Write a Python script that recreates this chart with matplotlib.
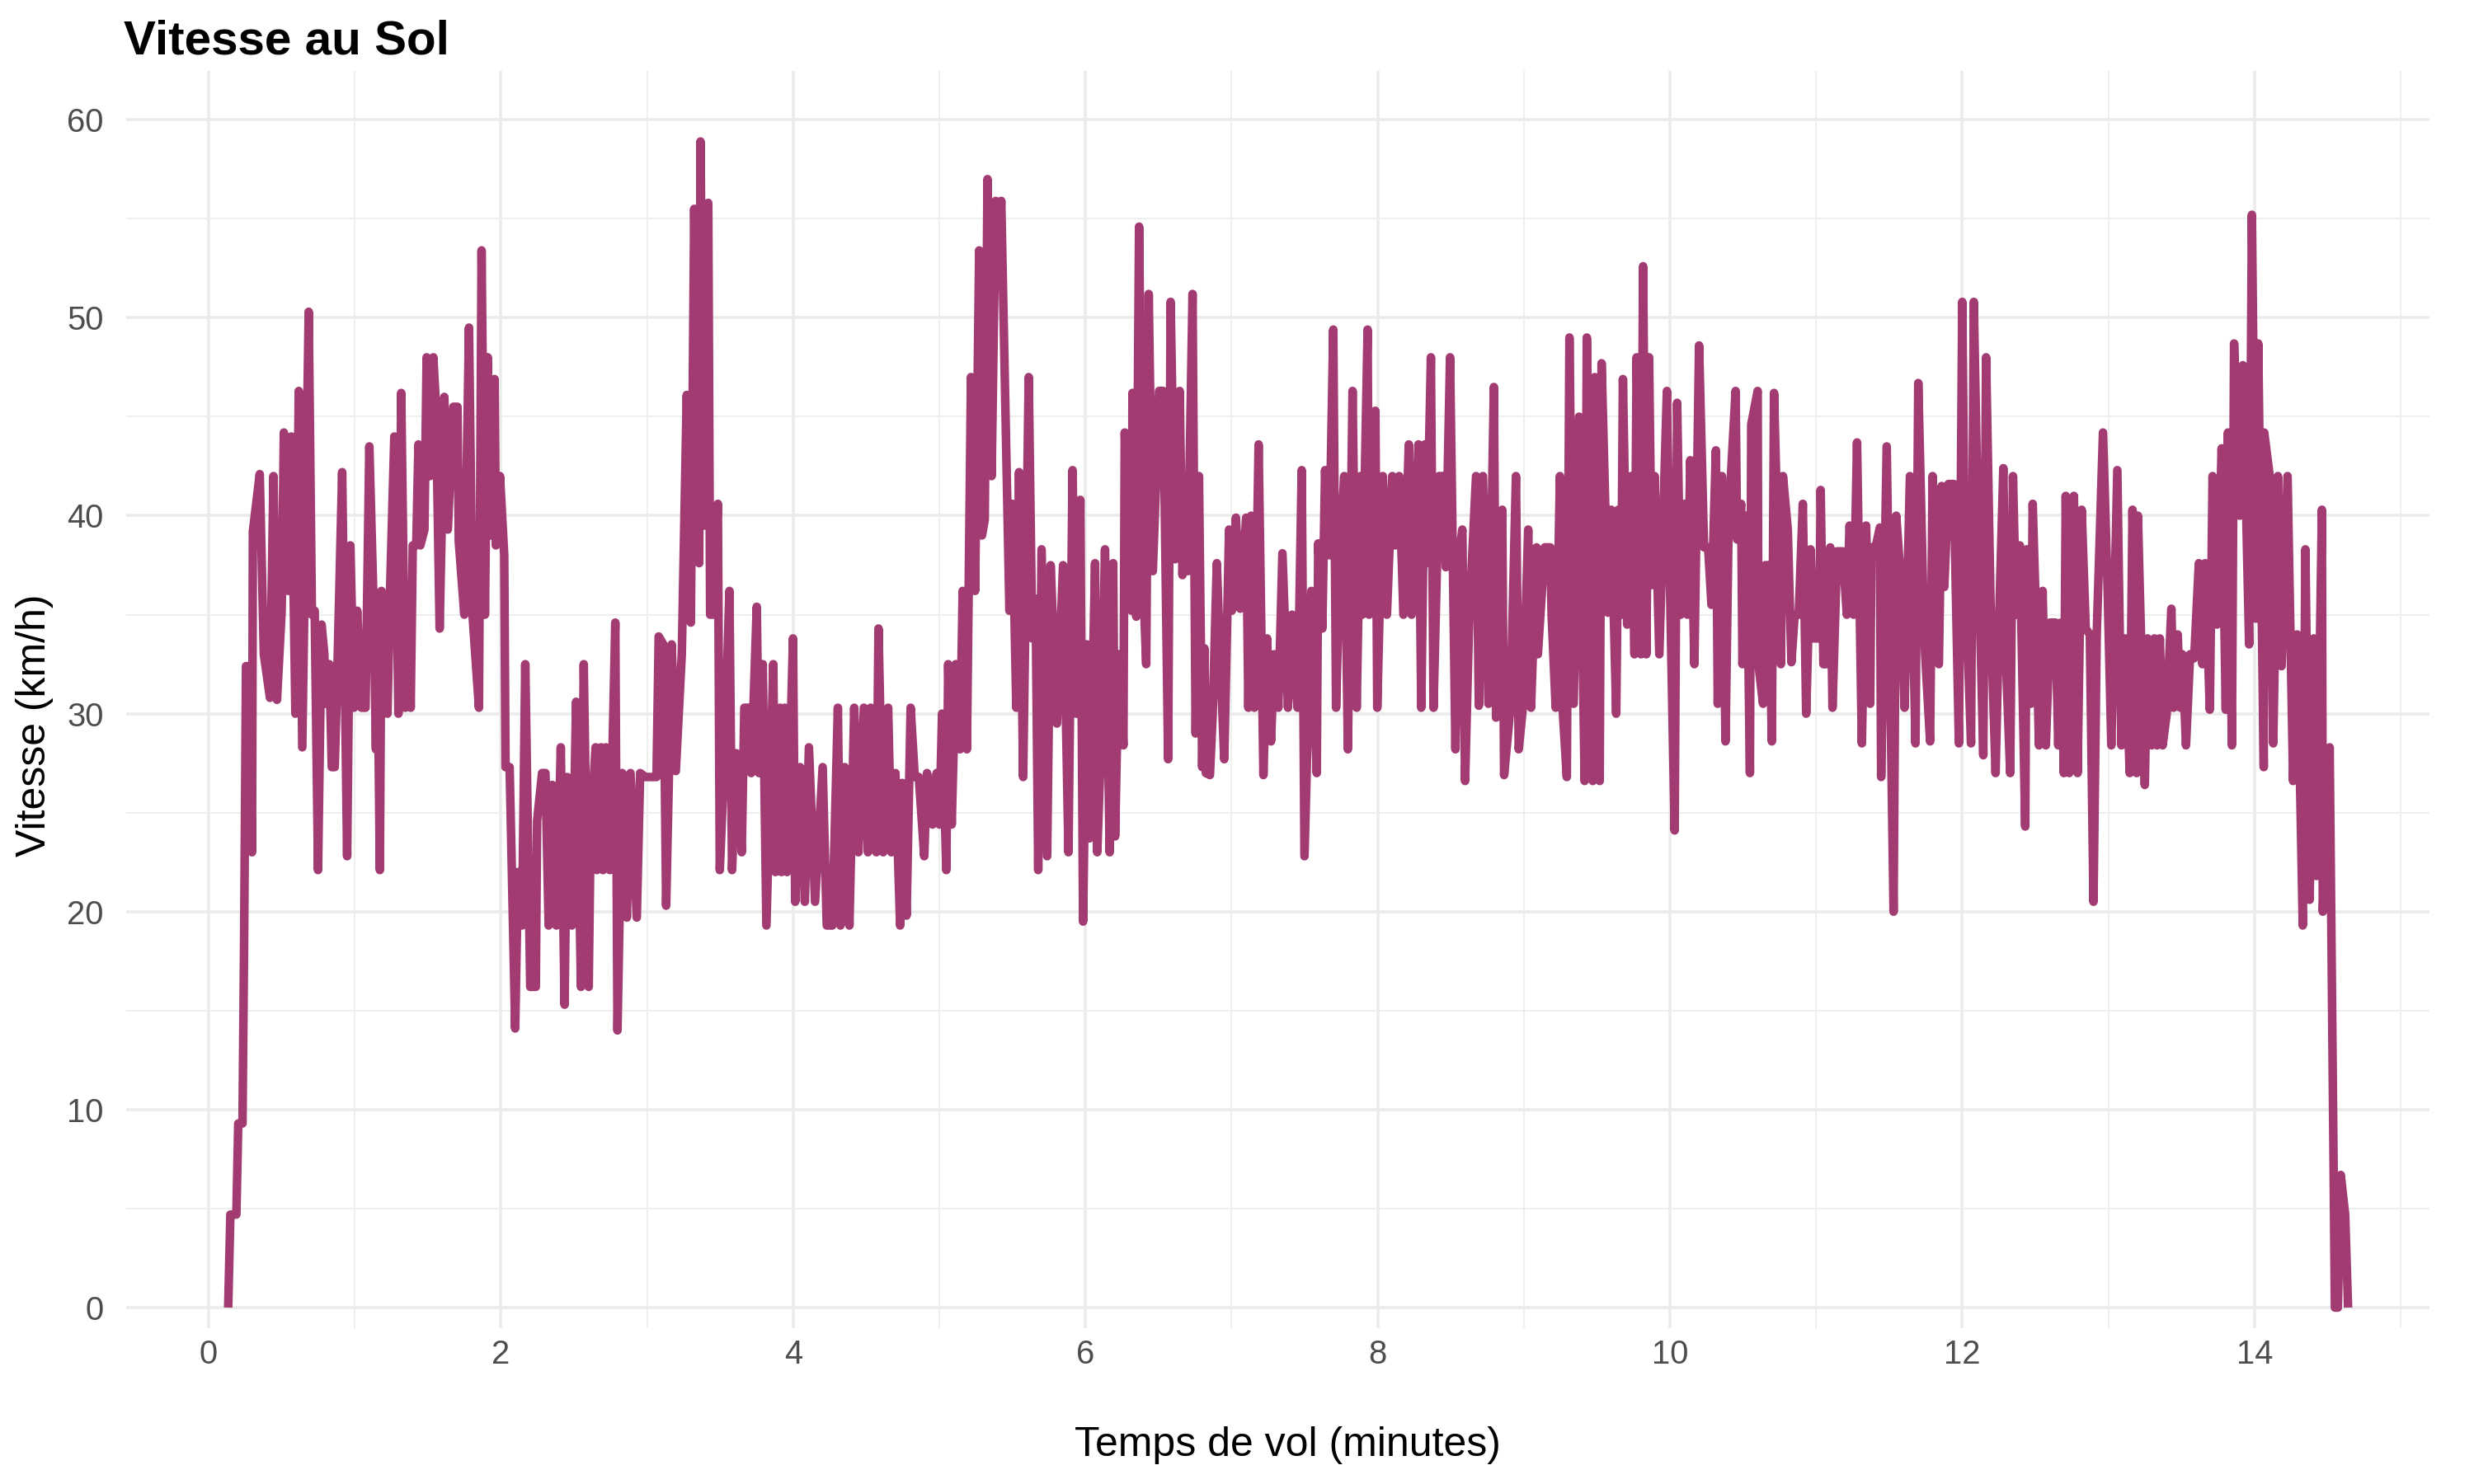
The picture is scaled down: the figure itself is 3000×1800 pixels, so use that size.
#!/usr/bin/env python3

import numpy as np
import matplotlib.pyplot as plt

plt.rcParams['font.family'] = ['Liberation Sans', 'DejaVu Sans']

# temps de vol (minutes) et vitesse au sol (km/h)
temps = [
    0.134, 0.149, 0.190, 0.203, 0.232, 0.243, 0.256, 0.275, 0.297, 0.303,
    0.350, 0.378, 0.420, 0.444, 0.468, 0.500, 0.515, 0.544, 0.566, 0.594,
    0.617, 0.641, 0.685, 0.707, 0.726, 0.749, 0.773, 0.792, 0.797, 0.826,
    0.843, 0.863, 0.876, 0.914, 0.948, 0.970, 0.995, 1.017, 1.046, 1.074,
    1.100, 1.130, 1.145, 1.153, 1.172, 1.183,
    1.224, 1.242, 1.271, 1.299, 1.318, 1.346, 1.365, 1.383, 1.397, 1.421,
    1.436, 1.449, 1.477, 1.492, 1.515, 1.538, 1.556, 1.581, 1.613, 1.637,
    1.675, 1.703, 1.712, 1.750, 1.782, 1.806, 1.850, 1.868, 1.891, 1.910,
    1.929, 1.957, 1.966, 1.994, 2.023, 2.032, 2.060, 2.098, 2.117, 2.145,
    2.167, 2.201, 2.239, 2.248, 2.282, 2.305, 2.327, 2.352, 2.380,
    2.410, 2.436, 2.454, 2.486, 2.515, 2.548, 2.567, 2.601, 2.614, 2.648,
    2.657, 2.686, 2.699, 2.718, 2.746, 2.783, 2.798, 2.830, 2.862, 2.887,
    2.930, 2.953, 2.990, 3.065, 3.080, 3.112, 3.131, 3.169, 3.197, 3.238,
    3.272, 3.300, 3.323, 3.357, 3.366, 3.389, 3.419, 3.432, 3.451, 3.485,
    3.498, 3.526, 3.564, 3.582, 3.611,
    3.648, 3.666, 3.695, 3.713, 3.751, 3.766, 3.792, 3.817, 3.864, 3.879,
    3.911, 3.920, 3.943, 3.958, 3.999, 4.014, 4.048, 4.080, 4.108, 4.150,
    4.202, 4.230, 4.268, 4.306, 4.324, 4.353, 4.385, 4.418, 4.447, 4.484,
    4.512, 4.531, 4.569, 4.584, 4.616, 4.650, 4.672, 4.700, 4.732, 4.747,
    4.776, 4.804, 4.832,
    4.860, 4.897, 4.916, 4.954, 4.982, 5.001, 5.019, 5.048, 5.061, 5.085,
    5.113, 5.142, 5.160, 5.189, 5.217, 5.245, 5.273, 5.292, 5.311, 5.330,
    5.358, 5.386, 5.395, 5.424, 5.480, 5.499, 5.527, 5.546, 5.574, 5.612,
    5.636, 5.659, 5.677, 5.700, 5.738, 5.762, 5.805, 5.847, 5.884, 5.912,
    5.937, 5.965, 5.984,
    6.010, 6.028, 6.066, 6.081, 6.109, 6.134, 6.166, 6.190, 6.203, 6.228,
    6.260, 6.269, 6.316, 6.322, 6.348, 6.367, 6.391, 6.416, 6.433, 6.461,
    6.485, 6.504, 6.532, 6.566, 6.583, 6.613, 6.645, 6.664, 6.683, 6.701,
    6.733, 6.754, 6.777, 6.799, 6.814, 6.824, 6.852, 6.871, 6.899, 6.921,
    6.950, 6.965, 6.983, 7.002, 7.030, 7.059, 7.100, 7.115, 7.134, 7.156,
    7.185, 7.218, 7.243,
    7.270, 7.292, 7.320, 7.348, 7.386, 7.414, 7.452, 7.480, 7.499, 7.546,
    7.583, 7.593, 7.621, 7.640, 7.668, 7.696, 7.715, 7.743, 7.771, 7.796,
    7.828, 7.856, 7.884, 7.894, 7.931, 7.941, 7.984, 7.997, 8.035, 8.063,
    8.100, 8.119, 8.147, 8.176, 8.213, 8.232, 8.279, 8.298, 8.322, 8.335,
    8.364, 8.382, 8.420,
    8.451, 8.466, 8.495, 8.532, 8.551, 8.579, 8.598, 8.626, 8.673, 8.692,
    8.720, 8.758, 8.795, 8.810, 8.852, 8.865, 8.908, 8.946, 8.965, 8.993,
    9.030, 9.049, 9.087, 9.096, 9.143, 9.181, 9.190, 9.218, 9.247, 9.265,
    9.294, 9.312, 9.341, 9.378, 9.416, 9.431, 9.472, 9.485, 9.519, 9.532,
    9.576, 9.598, 9.632, 9.647, 9.666,
    9.678, 9.707, 9.735, 9.757, 9.772, 9.801, 9.816, 9.838, 9.857, 9.876,
    9.895, 9.927, 9.979, 9.998, 10.032, 10.049, 10.073, 10.101, 10.120, 10.139,
    10.167, 10.199, 10.233, 10.261, 10.284, 10.314, 10.327, 10.355, 10.380, 10.402,
    10.449, 10.459, 10.487, 10.496, 10.524, 10.547, 10.556, 10.600, 10.605, 10.637,
    10.652, 10.675, 10.697, 10.712, 10.759, 10.773, 10.806, 10.831,
    10.853, 10.881, 10.909, 10.932, 10.962, 10.984, 11.022, 11.031, 11.050, 11.069,
    11.097, 11.112, 11.144, 11.182, 11.210, 11.229, 11.257, 11.280, 11.313, 11.342,
    11.370, 11.379, 11.407, 11.436, 11.445, 11.483, 11.530, 11.548, 11.577, 11.605,
    11.642, 11.680, 11.699, 11.736, 11.746, 11.780, 11.797, 11.840, 11.859, 11.877,
    11.906, 11.943, 11.953, 11.977, 12.000, 12.018, 12.060, 12.079,
    12.112, 12.144, 12.163, 12.196, 12.228, 12.253, 12.281, 12.300, 12.328, 12.347,
    12.369, 12.394, 12.431, 12.441, 12.469, 12.482, 12.507, 12.525, 12.550, 12.572,
    12.601, 12.638, 12.657, 12.676, 12.695, 12.708, 12.732, 12.764, 12.789, 12.817,
    12.845, 12.873, 12.898, 12.920, 12.963, 12.995, 13.020, 13.061, 13.089, 13.114,
    13.146, 13.165, 13.193, 13.202, 13.249, 13.268, 13.296, 13.315,
    13.333, 13.352, 13.371, 13.399, 13.431, 13.446, 13.474, 13.493, 13.506, 13.531,
    13.559, 13.587, 13.619, 13.643, 13.662, 13.694, 13.713, 13.743, 13.775, 13.803,
    13.818, 13.845, 13.860, 13.897, 13.920, 13.963, 13.982, 14.010, 14.025, 14.063,
    14.066, 14.104, 14.128, 14.160, 14.185, 14.226, 14.264, 14.292, 14.330, 14.348,
    14.377, 14.405, 14.424, 14.461, 14.467, 14.514, 14.550, 14.570, 14.590, 14.620,
    14.640 ]

vitesse = [
    0.0, 4.7, 4.7, 9.3, 9.3, 18.5, 32.4, 32.4, 23.0, 39.2,
    42.1, 33.0, 30.8, 42.0, 30.7, 35.2, 44.2, 36.2, 44.0, 30.0,
    46.3, 28.3, 50.3, 35.0, 35.2, 22.1, 34.5, 33.0, 30.5, 32.5,
    27.3, 27.3, 30.6, 42.2, 22.8, 38.5, 30.3, 35.2, 30.3, 30.3,
    43.5, 35.2, 28.2, 35.2, 22.1, 36.2,
    30.0, 36.3, 44.0, 30.0, 46.2, 30.3, 35.5, 30.3, 38.5, 38.5,
    43.6, 38.5, 39.3, 48.0, 42.0, 48.0, 45.5, 34.3, 46.0, 39.3,
    45.5, 45.5, 38.7, 35.0, 49.5, 35.0, 30.3, 53.4, 35.0, 48.0,
    39.0, 46.9, 38.5, 42.0, 38.0, 27.3, 27.3, 14.1, 22.0, 19.3,
    32.5, 16.2, 16.2, 24.6, 27.0, 27.0, 19.3, 26.4, 19.3,
    28.3, 15.3, 26.8, 19.3, 30.6, 16.2, 32.5, 16.2, 24.0, 28.3,
    22.1, 28.3, 22.1, 28.3, 22.1, 34.6, 14.0, 27.0, 19.7, 27.0,
    19.7, 27.0, 26.8, 26.8, 33.9, 33.5, 20.3, 33.5, 27.1, 33.0,
    46.1, 34.6, 55.5, 37.6, 58.9, 39.5, 55.8, 35.0, 35.0, 40.6,
    22.1, 27.0, 36.2, 22.1, 28.0,
    23.0, 30.3, 30.3, 27.0, 35.4, 27.0, 32.5, 19.3, 32.5, 22.0,
    30.3, 22.0, 30.3, 22.0, 33.8, 20.5, 27.3, 20.5, 28.3, 20.5,
    27.3, 19.3, 19.3, 30.3, 19.3, 27.3, 19.3, 30.3, 23.0, 30.3,
    23.0, 30.3, 23.0, 34.3, 23.0, 30.3, 23.0, 27.0, 19.3, 26.5,
    19.8, 30.3, 26.8,
    26.8, 22.8, 27.0, 24.4, 27.0, 24.4, 30.0, 22.1, 32.5, 24.4,
    32.5, 28.2, 36.2, 28.2, 47.0, 36.2, 53.4, 39.0, 39.8, 57.0,
    42.0, 55.9, 51.6, 55.9, 35.2, 40.6, 30.3, 42.2, 26.8, 47.0,
    33.8, 35.8, 22.1, 38.3, 22.8, 37.5, 29.5, 37.5, 23.0, 42.3,
    30.0, 40.8, 19.5,
    33.5, 23.7, 37.6, 23.0, 29.0, 38.3, 23.0, 37.6, 23.8, 33.0,
    28.4, 44.2, 35.2, 46.2, 34.9, 54.6, 37.5, 32.5, 51.2, 37.2,
    42.0, 46.3, 46.3, 27.7, 50.8, 37.8, 46.3, 37.0, 41.0, 37.2,
    51.2, 29.0, 42.0, 27.3, 33.3, 27.0, 26.9, 30.0, 37.6, 33.0,
    27.7, 33.0, 39.3, 35.2, 39.9, 35.3, 39.9, 30.3, 40.0, 30.3,
    43.6, 26.9, 33.8,
    28.6, 33.0, 30.3, 38.1, 30.3, 35.0, 30.3, 42.3, 22.8, 36.2,
    27.0, 38.6, 34.3, 42.3, 38.0, 49.4, 30.3, 38.3, 42.0, 28.2,
    46.3, 30.3, 42.0, 35.0, 49.4, 35.0, 45.3, 30.3, 42.0, 35.0,
    42.0, 38.5, 42.0, 35.0, 43.6, 35.0, 43.6, 30.3, 43.6, 37.6,
    48.0, 30.3, 42.0,
    42.0, 37.4, 48.0, 28.2, 37.6, 39.3, 26.6, 34.8, 42.0, 30.4,
    42.0, 30.5, 46.5, 29.8, 40.3, 26.9, 30.3, 42.0, 28.2, 30.3,
    39.3, 30.3, 38.4, 33.0, 38.4, 38.4, 35.0, 30.3, 42.0, 30.3,
    26.8, 49.0, 30.5, 45.0, 26.6, 49.0, 26.6, 47.0, 26.6, 47.7,
    35.1, 40.3, 30.0, 40.3, 35.0,
    46.9, 34.5, 42.0, 33.0, 48.0, 33.0, 52.6, 33.0, 48.0, 36.5,
    42.0, 33.0, 46.3, 37.2, 24.1, 45.7, 35.0, 40.6, 35.0, 42.8,
    32.5, 48.6, 38.4, 38.4, 35.5, 43.3, 30.5, 42.0, 28.6, 40.0,
    46.3, 38.8, 40.6, 32.5, 40.0, 27.0, 44.6, 46.3, 32.5, 30.5,
    37.5, 37.5, 28.6, 46.2, 32.5, 42.0, 39.3, 32.6,
    35.0, 35.0, 40.6, 30.0, 38.3, 33.8, 33.8, 41.3, 32.5, 32.5,
    38.4, 30.3, 38.2, 38.2, 35.0, 39.5, 35.0, 43.7, 28.5, 39.5,
    30.5, 38.4, 38.4, 39.4, 26.8, 43.5, 20.0, 40.0, 37.0, 30.3,
    42.0, 28.5, 46.7, 35.0, 33.0, 28.6, 42.0, 32.5, 41.5, 36.4,
    41.6, 41.6, 37.3, 28.5, 50.8, 37.5, 28.5, 50.8,
    37.6, 27.9, 48.0, 34.6, 27.0, 35.0, 42.4, 32.5, 27.0, 42.0,
    35.0, 38.5, 24.3, 38.3, 30.5, 40.6, 34.3, 28.4, 36.2, 28.4,
    34.6, 34.6, 28.4, 34.6, 27.0, 41.0, 27.0, 41.0, 27.0, 40.3,
    34.3, 34.0, 20.5, 34.0, 44.2, 36.2, 28.4, 42.3, 28.4, 33.8,
    27.0, 40.3, 27.0, 40.0, 26.4, 33.8, 28.4, 33.8,
    28.4, 33.8, 28.4, 30.0, 35.3, 30.3, 34.0, 30.3, 33.0, 28.4,
    33.0, 32.8, 37.6, 32.5, 37.6, 30.2, 42.0, 34.5, 43.4, 30.2,
    44.2, 28.4, 48.7, 40.0, 47.6, 33.5, 55.2, 34.8, 48.7, 27.3,
    44.2, 42.0, 28.5, 42.0, 32.4, 42.0, 26.6, 34.0, 19.3, 38.3,
    20.6, 33.8, 21.8, 40.3, 20.0, 28.3, 0.0, 0.0, 6.7, 4.7,
    0.0 ]

xticks = [0, 2, 4, 6, 8, 10, 12, 14]
yticks = [0, 10, 20, 30, 40, 50, 60]

couleur = '#A23B72'

fig = plt.figure(figsize=(10, 6), dpi=300)
ax = fig.add_axes([0.051, 0.105, 0.931, 0.847])

ax.plot(temps, vitesse, color=couleur, lw=2.5, solid_joinstyle='round',
        solid_capstyle='butt', zorder=3)

ax.set_xlim(-0.564, 15.197)
ax.set_ylim(-1.04, 62.45)

ax.set_xticks(xticks)
ax.set_yticks(yticks)
ax.set_xticks(np.arange(1, 16, 2), minor=True)
ax.set_yticks(np.arange(5, 61, 10), minor=True)

ax.grid(which='major', color='#EBEBEB', lw=0.85)
ax.grid(which='minor', color='#EFEFEF', lw=0.45)
ax.set_axisbelow(True)

for s in ax.spines.values():
    s.set_visible(False)
ax.tick_params(which='both', length=0)
ax.tick_params(axis='x', labelsize=9.6, labelcolor='#4D4D4D', pad=3)
ax.tick_params(axis='y', labelsize=9.6, labelcolor='#4D4D4D', pad=6.5)

fig.text(0.05, 1 - 66 / 1800, 'Vitesse au Sol', fontsize=14,
         fontweight='bold', ha='left', va='baseline')
fig.text(1561 / 3000, 1 - 1753 / 1800, 'Temps de vol (minutes)',
         fontsize=12, ha='center', va='center')
fig.text(42 / 3000, 1 - 880 / 1800, 'Vitesse (km/h)', fontsize=12,
         rotation=90, ha='center', va='center')

fig.savefig('out.png', dpi=300)
